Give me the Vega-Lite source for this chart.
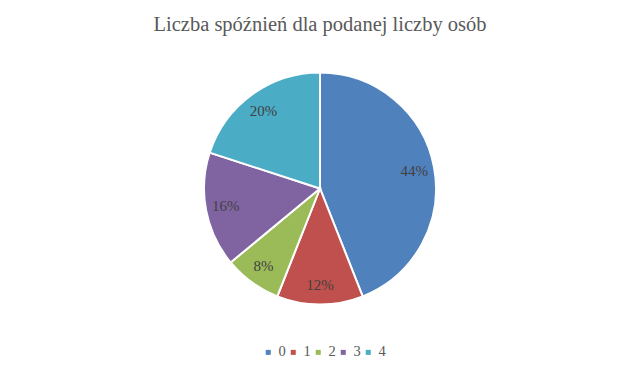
{
  "$schema": "https://vega.github.io/schema/vega-lite/v6.json",
  "autosize": {"type": "fit", "contains": "padding"},
  "width": 640,
  "height": 374,
  "padding": {"top": 14, "bottom": 46, "left": 0, "right": 0},
  "background": "white",
  "config": {"view": {"stroke": null}},
  "title": {
    "text": "Liczba spóźnień dla podanej liczby osób",
    "font": "Liberation Serif",
    "fontSize": 20.5,
    "fontWeight": "normal",
    "color": "#595959",
    "anchor": "middle",
    "offset": 14
  },
  "data": {
    "values": [
      {"spoznienia": "0", "osoby": 11, "pct": "44%"},
      {"spoznienia": "1", "osoby": 3, "pct": "12%"},
      {"spoznienia": "2", "osoby": 2, "pct": "8%"},
      {"spoznienia": "3", "osoby": 4, "pct": "16%"},
      {"spoznienia": "4", "osoby": 5, "pct": "20%"}
    ]
  },
  "encoding": {
    "theta": {"field": "osoby", "type": "quantitative", "stack": true},
    "order": {"field": "spoznienia", "type": "ordinal"}
  },
  "layer": [
    {
      "mark": {"type": "arc", "outerRadius": 116, "stroke": "white", "strokeWidth": 2},
      "encoding": {
        "color": {
          "field": "spoznienia",
          "type": "nominal",
          "scale": {
            "domain": ["0", "1", "2", "3", "4"],
            "range": ["#4F81BD", "#C0504D", "#9BBB59", "#8064A2", "#4BACC6"]
          },
          "legend": {
            "title": null,
            "orient": "none",
            "legendX": 261,
            "legendY": 296,
            "direction": "horizontal",
            "symbolType": "square",
            "symbolSize": 25,
            "symbolStrokeWidth": 0,
            "labelFont": "Liberation Serif",
            "labelFontSize": 14.5,
            "labelColor": "#595959",
            "columnPadding": 0,
            "labelOffset": 3
          }
        }
      }
    },
    {
      "mark": {"type": "text", "radius": 96, "font": "Liberation Serif", "fontSize": 15, "color": "#404040"},
      "encoding": {
        "text": {"field": "pct", "type": "nominal"}
      }
    }
  ]
}
